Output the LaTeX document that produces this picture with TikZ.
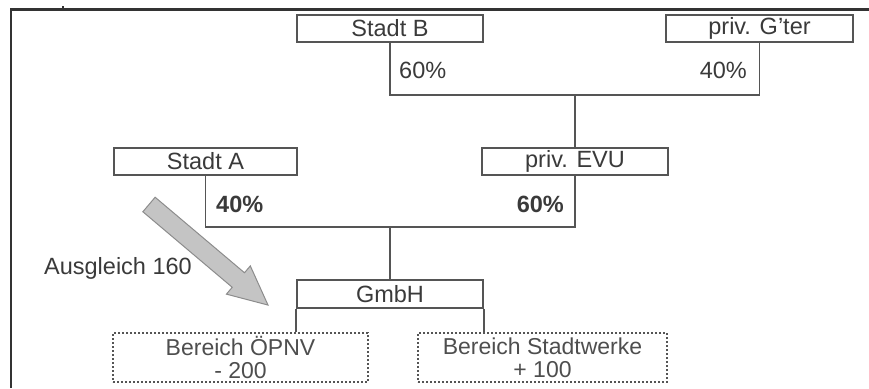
\documentclass[tikz,border=0pt]{standalone}
\usepackage{fontspec}
\setmainfont{Liberation Sans}

\definecolor{linegray}{HTML}{555555}
\definecolor{textgray}{HTML}{3A3A3A}
\definecolor{arrowgray}{HTML}{C4C4C4}

% ownership boxes, 1pt per unit
\tikzset{
    unit/.style={draw=linegray, line width=1.6pt, inner sep=0pt,
        minimum height=27pt, text=textgray,
        font=\fontsize{23.5}{25}\selectfont},
    branch/.style={draw=linegray, line width=1.8pt, dash pattern=on 1.8pt off 2.2pt,
        inner sep=0pt, minimum height=49pt, align=center, text=textgray!90,
        font=\fontsize{23}{23}\selectfont},
    share/.style={inner sep=0pt, text=textgray, font=\fontsize{23.5}{25}\selectfont},
    link/.style={draw=linegray, line width=1.6pt}
}

\begin{document}
\begin{tikzpicture}[x=1pt, y=1pt]
    \useasboundingbox (0,0) rectangle (869,-388);

    % outer frame, open to the right and bottom
    \draw[line width=2.5pt, color=black!80] (11,-388) -- (11,-9.5) -- (869,-9.5);
    \draw[line width=2.5pt, color=black!80] (63,-9.5) -- (63,-6);

    % the owners
    \node[unit, minimum width=186pt] (stadtB) at (390,-28.5) {Stadt B};
    \node[unit, minimum width=187pt] (gter) at (759.5,-28.5) {priv. G'ter};
    \node[unit, minimum width=183pt] (stadtA) at (205.5,-161.5) {Stadt A};
    \node[unit, minimum width=186pt] (evu) at (575,-161.5) {priv. EVU};
    \node[unit, minimum width=186pt, minimum height=28pt] (gmbh) at (390,-294) {GmbH};

    % the two business areas
    \node[branch, minimum width=255pt] (oepnv) at (240.5,-357.5) {Bereich ÖPNV\\- 200};
    \node[branch, minimum width=249pt] (werke) at (542.5,-357.5) {Bereich Stadtwerke\\+ 100};

    % junctions of the holding lines
    \coordinate (jB) at (575,-95);
    \coordinate (jA) at (390,-227);

    \draw[link] (stadtB.south) |- (jB) -| (gter.south);
    \draw[link] (jB) -- (evu.north);
    \draw[link] (stadtA.south) |- (jA) -| (evu.south);
    \draw[link] (jA) -- (gmbh.north);
    \draw[link] (gmbh.south west) -- (gmbh.south west |- oepnv.north);
    \draw[link] (gmbh.south east) -- (gmbh.south east |- werke.north);

    % shares
    \node[share, anchor=west] (pB) at (399,-70) {60\%};
    \node[share, anchor=east] (pG) at (747,-70) {40\%};
    \node[share, anchor=west, font=\fontsize{23.5}{25}\selectfont\bfseries] (pA) at (216,-204) {40\%};
    \node[share, anchor=east, font=\fontsize{23.5}{25}\selectfont\bfseries] (pE) at (564,-204) {60\%};

    % compensation payment
    \node[share] (ausgl) at (118,-268) {Ausgleich 160};
    \draw[draw=black!45, fill=arrowgray, line width=1pt, shift={(149,-204.5)}, rotate=-40.2]
        (0,-9.5) -- (117,-9.5) -- (117,-18.5) -- (155.8,0) -- (117,18.5) -- (117,9.5) -- (0,9.5) -- cycle;
\end{tikzpicture}
\end{document}
